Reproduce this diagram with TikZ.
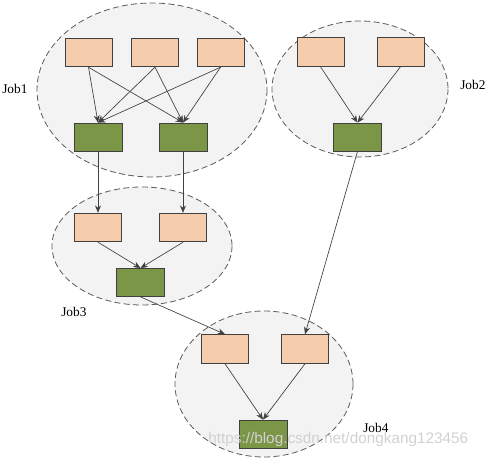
\documentclass[tikz,border=0pt]{standalone}
\usepackage{fontspec}
\setmainfont{Liberation Serif}
\setsansfont{Liberation Sans}
\usetikzlibrary{arrows.meta}
\definecolor{cloudfill}{RGB}{243,243,243}
\definecolor{cloudline}{RGB}{90,90,90}
\definecolor{mapfill}{RGB}{245,205,172}
\definecolor{redfill}{RGB}{124,150,72}
\definecolor{edgegray}{RGB}{64,64,64}
\tikzstyle{cloud} = [draw=cloudline,fill=cloudfill,dash pattern={on 4.5pt off 2.5pt},line width=0.6pt]
\tikzstyle{mapbox} = [draw=edgegray,fill=mapfill,line width=0.6pt,inner sep=0pt,minimum width=35.25pt,minimum height=21.5pt]
\tikzstyle{redbox} = [draw=edgegray,fill=redfill,line width=0.6pt,inner sep=0pt,minimum width=36pt,minimum height=21pt]
\tikzstyle{arrow} = [draw=edgegray,line width=0.5pt,-{Stealth[length=5.5pt,width=4.5pt]}]
\tikzstyle{joblabel} = [anchor=west,inner sep=0.75pt,font=\fontsize{10}{12}\selectfont]

\begin{document}
\begin{tikzpicture}[x=0.75pt,y=0.75pt,yscale=-1,xscale=1]
\useasboundingbox (0,0) rectangle (486,459);

% job clouds
\draw [cloud] (152,90) ellipse (115 and 87);
\draw [cloud] (360,89) ellipse (88 and 68);
\draw [cloud] (142,246) ellipse (90 and 59);
\draw [cloud] (264,384) ellipse (89 and 73);

% Job1
\node (a1) [mapbox] at (88.5,52.5) {};
\node (a2) [mapbox] at (155,52.5) {};
\node (a3) [mapbox] at (220.5,52.5) {};
\node (r1) [redbox] at (98,137) {};
\node (r2) [redbox] at (183,137) {};
% Job2
\node (b1) [mapbox] at (320.5,52) {};
\node (b2) [mapbox] at (400.5,52) {};
\node (r3) [redbox] at (357.5,137) {};
% Job3
\node (c1) [mapbox] at (98,227.5) {};
\node (c2) [mapbox] at (183,227.5) {};
\node (r4) [redbox] at (140.5,282.5) {};
% Job4
\node (d1) [mapbox] at (225,349) {};
\node (d2) [mapbox] at (305,349) {};
\node (r5) [redbox] at (263,434) {};

% arrows
\foreach \src in {a1,a2,a3} {
  \draw [arrow] (\src.south) -- (r1.north);
  \draw [arrow] (\src.south) -- (r2.north);
}
\draw [arrow] (b1.south) -- (r3.north);
\draw [arrow] (b2.south) -- (r3.north);
\draw [arrow] (r1.south) -- (c1.north);
\draw [arrow] (r2.south) -- (c2.north);
\draw [arrow] (c1.south) -- (r4.north);
\draw [arrow] (c2.south) -- (r4.north);
\draw [arrow] (r4.south) -- (d1.north);
\draw [arrow] (r3.south) -- (d2.north);
\draw [arrow] (d1.south) -- (r5.north);
\draw [arrow] (d2.south) -- (r5.north);

% Text Node
\node (job1) [joblabel] at (1,89) {Job1};
% Text Node
\node (job2) [joblabel] at (459,85) {Job2};
% Text Node
\node (job3) [joblabel] at (60,312) {Job3};
% Text Node
\node (job4) [joblabel] at (362,428) {Job4};
% Text Node
\node (mark) [anchor=west,inner sep=0pt,text=white!82!black,font=\sffamily\fontsize{11.5}{13}\selectfont] at (208,440) {https://blog.csdn.net/dongkang123456};

\end{tikzpicture}
\end{document}
